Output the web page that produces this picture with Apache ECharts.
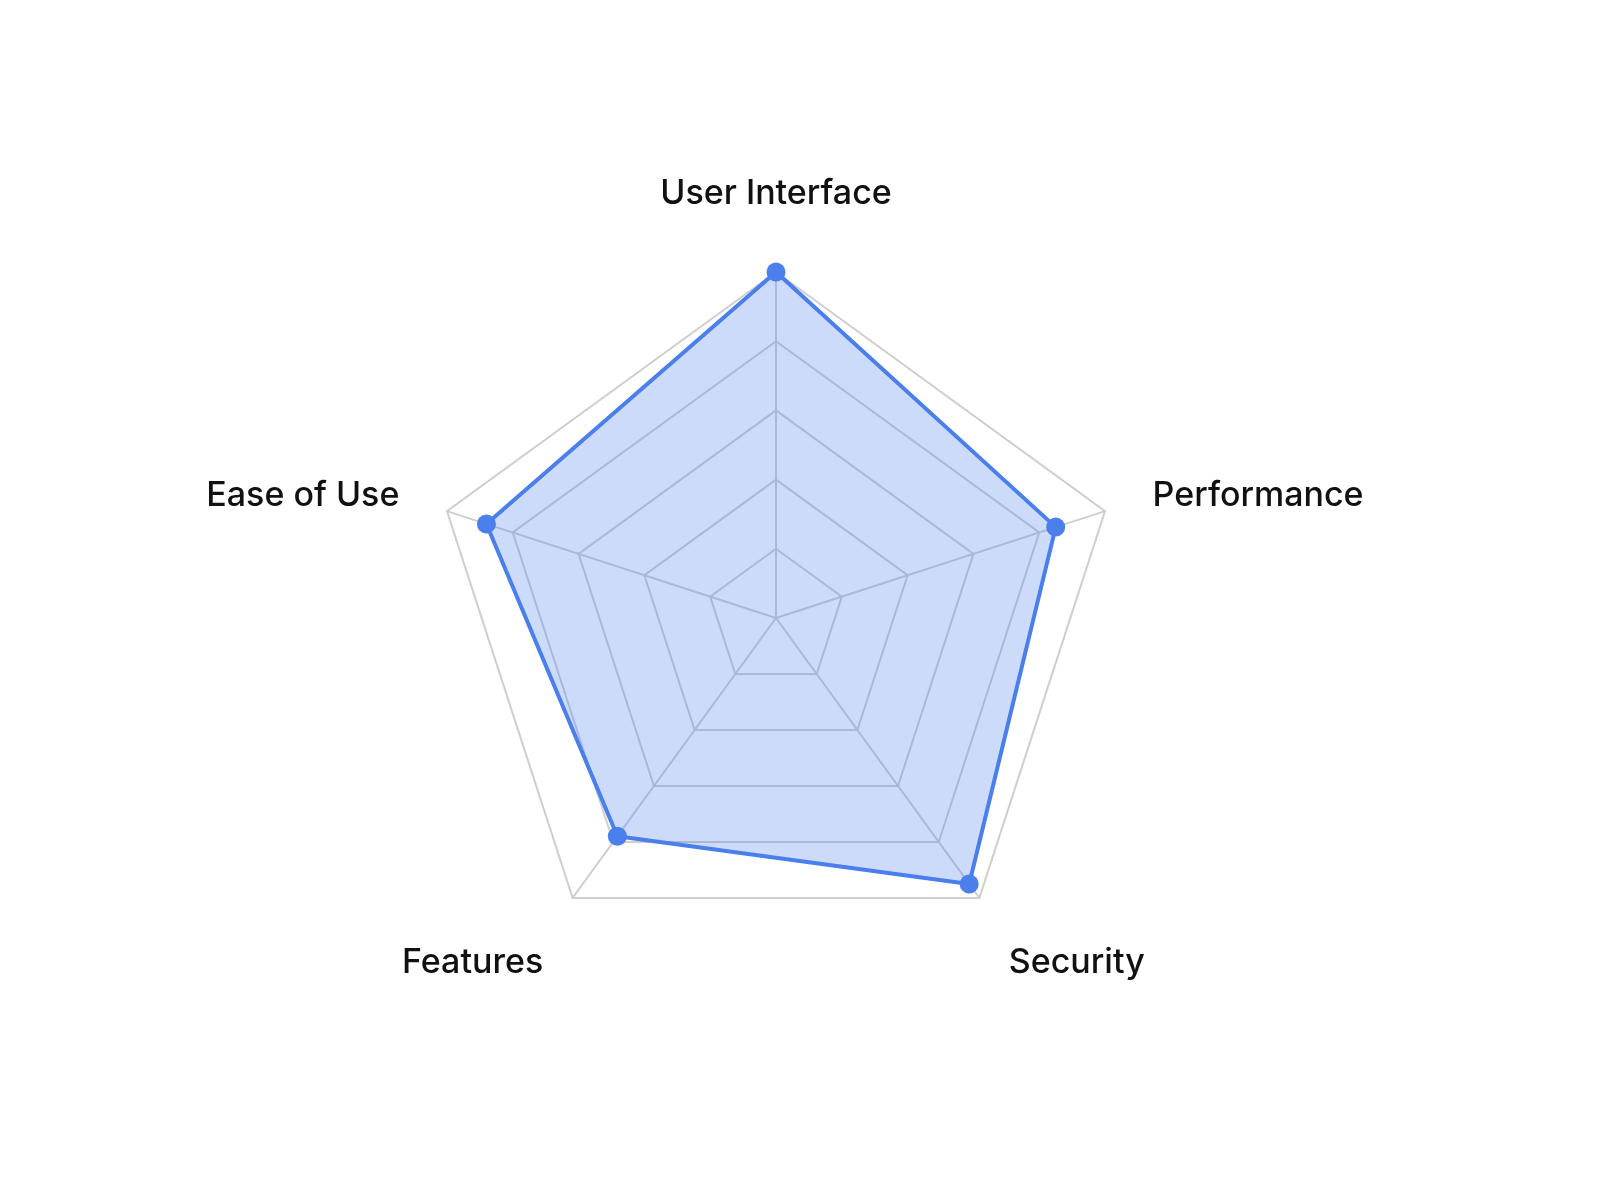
<!DOCTYPE html>
<html>
<head>
<meta charset="utf-8">
<script src="https://cdn.jsdelivr.net/npm/echarts@6/dist/echarts.min.js"></script>
<style>
    html, body { margin: 0; padding: 0; background: #ffffff; }
    #radar_chart { width: 1600px; height: 1200px; }
</style>
</head>
<body>
<div id="radar_chart"></div>
<script>
// 指标与数值 (radar 逆时针排列, 所以顺序是 上 / 左 / 左下 / 右下 / 右)
const indicatorNames = ['User Interface', 'Ease of Use', 'Features', 'Security', 'Performance']
const indicatorMax = 100
const scoreValues = [100, 88, 78, 95, 85]

const labelFont = {
    color: '#111111',
    fontSize: 34,
    fontWeight: 500,
    fontFamily: 'Inter'
}

const nodeDiv = document.getElementById('radar_chart')
const myChart = echarts.init(nodeDiv)
const option = {
    textStyle: { fontFamily: 'Inter' },
    radar: {
        center: [776, 618],
        radius: 346,
        startAngle: 90,
        splitNumber: 5,
        shape: 'polygon',
        nameGap: 50,
        axisName: {
            ...labelFont,
            formatter: (name) => {
                const idx = indicatorNames.indexOf(name)
                // 顶部上移, 底部两个下移
                const key = idx === 0 ? 'top' : idx === 2 || idx === 3 ? 'bottom' : 'side'
                return `{${key}|${name}}`
            },
            rich: {
                top: { ...labelFont, padding: [0, 0, 11, 0] },
                side: { ...labelFont },
                bottom: { ...labelFont, padding: [48, 0, 0, 0] }
            }
        },
        indicator: indicatorNames.map((name) => ({ name: name, max: indicatorMax })),
        splitArea: { show: false },
        splitLine: { lineStyle: { color: '#cfcfcf', width: 2 } },
        axisLine: { lineStyle: { color: '#cfcfcf', width: 2 } }
    },
    series: [
        {
            type: 'radar',
            symbol: 'circle',
            symbolSize: 19,
            itemStyle: { color: '#4a7fec' },
            lineStyle: { color: '#4a7fec', width: 4 },
            areaStyle: { color: 'rgba(74, 127, 236, 0.4)' },
            data: [{ value: scoreValues, name: 'Score' }]
        }
    ]
}
myChart.setOption(option)
</script>
</body>
</html>
